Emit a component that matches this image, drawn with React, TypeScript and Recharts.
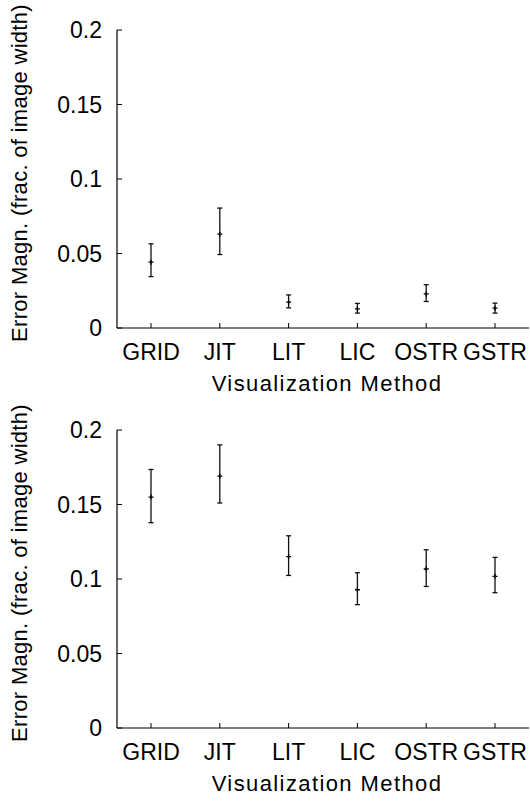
import { ComposedChart, Line, XAxis, YAxis, ErrorBar, Label } from 'recharts';

const methods = ['GRID', 'JIT', 'LIT', 'LIC', 'OSTR', 'GSTR'];

const topMean = [0.0442, 0.063, 0.0173, 0.0129, 0.0229, 0.0133];
const topLow = [0.0345, 0.0493, 0.0135, 0.01, 0.0178, 0.01];
const topHigh = [0.0565, 0.0805, 0.0222, 0.0165, 0.0291, 0.0167];

const bottomMean = [0.155, 0.169, 0.115, 0.0928, 0.1067, 0.1018];
const bottomLow = [0.1378, 0.151, 0.1024, 0.0828, 0.095, 0.0908];
const bottomHigh = [0.1735, 0.19, 0.129, 0.1042, 0.1196, 0.1145];

const yTicks = [0, 0.05, 0.1, 0.15, 0.2];

const font = '"Liberation Sans", Arial, Helvetica, sans-serif';
const ink = '#000';
const catPad = { left: 34, right: 34 };

function BottomTick(props: any) {
  const { x, y, payload } = props;
  return (
    <g>
      <line x1={x} y1={y} x2={x} y2={y - 5} stroke={ink} strokeWidth={1} />
      <text x={x} y={y + 32} textAnchor="middle" fontSize={23} fontFamily={font} fill={ink}>
        {payload.value}
      </text>
    </g>
  );
}

function TopTick(props: any) {
  const { x, y } = props;
  return <line x1={x} y1={y} x2={x} y2={y + 5} stroke={ink} strokeWidth={1} />;
}

function LeftTick(props: any) {
  const { x, y, payload } = props;
  return (
    <g>
      <line x1={x} y1={y} x2={x + 5} y2={y} stroke={ink} strokeWidth={1} />
      <text x={x - 15} y={y + 8} textAnchor="end" fontSize={23} fontFamily={font} fill={ink}>
        {String(payload.value)}
      </text>
    </g>
  );
}

function RightTick(props: any) {
  const { x, y } = props;
  return <line x1={x} y1={y} x2={x - 5} y2={y} stroke={ink} strokeWidth={1} />;
}

function Cross(props: any) {
  const { cx, cy, index } = props;
  if (cx == null || cy == null) return <g key={index} />;
  return (
    <path
      key={index}
      d={`M${cx - 2.5},${cy}H${cx + 2.5}M${cx},${cy - 2.5}V${cy + 2.5}`}
      stroke={ink}
      strokeWidth={1.3}
      fill="none"
    />
  );
}

function Panel({ mean, low, high, height }: { mean: number[]; low: number[]; high: number[]; height: number }) {
  const data = methods.map((m, i) => ({
    method: m,
    mean: mean[i],
    err: [mean[i] - low[i], high[i] - mean[i]],
  }));
  const plotH = 298;
  const xAxisH = height - 30 - plotH;
  return (
    <ComposedChart width={530} height={height} data={data} margin={{ top: 30, right: 1, bottom: 0, left: 0 }}>
      <XAxis
        xAxisId="b"
        dataKey="method"
        height={xAxisH}
        padding={catPad}
        interval={0}
        tickSize={0}
        tickMargin={0}
        tickLine={false}
        tick={<BottomTick />}
        axisLine={{ stroke: ink, strokeWidth: 1.2 }}
      >
        <Label
          content={({ viewBox }: any) => (
            <text
              x={viewBox.x + viewBox.width / 2 + 4}
              y={viewBox.y + 63}
              textAnchor="middle"
              fontSize={22}
              fontFamily={font}
              letterSpacing={1.4}
              fill={ink}
            >
              Visualization Method
            </text>
          )}
        />
      </XAxis>
      <XAxis
        xAxisId="t"
        dataKey="method"
        orientation="top"
        height={0}
        padding={catPad}
        interval={0}
        tickSize={0}
        tickMargin={0}
        tickLine={false}
        tick={<TopTick />}
        axisLine={{ stroke: ink, strokeWidth: 1.2 }}
      />
      <YAxis
        yAxisId="l"
        domain={[0, 0.2]}
        ticks={yTicks}
        interval={0}
        width={117}
        tickSize={0}
        tickMargin={0}
        tickLine={false}
        tick={<LeftTick />}
        axisLine={{ stroke: ink, strokeWidth: 1.2 }}
      >
        <Label
          content={({ viewBox }: any) => {
            const cx = viewBox.x + 19;
            const cy = viewBox.y + viewBox.height / 2 - 6;
            return (
              <text
                x={cx}
                y={cy}
                transform={`rotate(-90 ${cx} ${cy})`}
                textAnchor="middle"
                dominantBaseline="central"
                fontSize={22}
                fontFamily={font}
                letterSpacing={0.3}
                fill={ink}
              >
                Error Magn. (frac. of image width)
              </text>
            );
          }}
        />
      </YAxis>
      <YAxis
        yAxisId="r"
        orientation="right"
        domain={[0, 0.2]}
        ticks={yTicks}
        interval={0}
        width={0}
        tickSize={0}
        tickMargin={0}
        tickLine={false}
        tick={<RightTick />}
        axisLine={{ stroke: ink, strokeWidth: 1.2 }}
      />
      <Line
        xAxisId="b"
        yAxisId="l"
        dataKey="mean"
        stroke="none"
        dot={Cross}
        activeDot={false}
        isAnimationActive={false}
      >
        <ErrorBar dataKey="err" direction="y" width={2.5} stroke="#111" strokeWidth={1.3} isAnimationActive={false} />
      </Line>
    </ComposedChart>
  );
}

export default function App() {
  return (
    <div style={{ position: 'absolute', left: 0, top: 0, width: 530, height: 803, background: '#fff' }}>
      <Panel mean={topMean} low={topLow} high={topHigh} height={400} />
      <Panel mean={bottomMean} low={bottomLow} high={bottomHigh} height={403} />
    </div>
  );
}
